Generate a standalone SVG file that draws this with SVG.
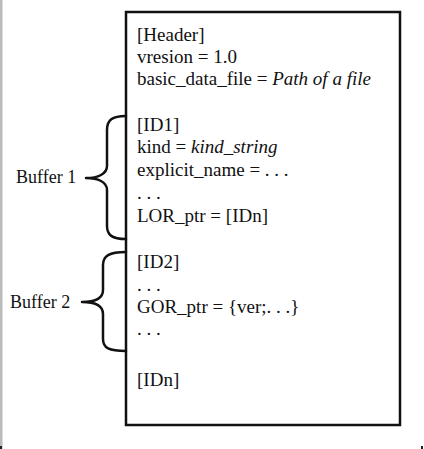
<svg xmlns="http://www.w3.org/2000/svg" width="424" height="449" viewBox="0 0 424 449">
<style>
text{font-family:"Liberation Serif","Times New Roman",serif;font-size:19px;fill:#111}
.lbl{font-size:18px}
.it{font-style:italic}
.brace{fill:none;stroke:#111;stroke-width:2.5;stroke-linejoin:round;stroke-linecap:round}
</style>
<rect x="0" y="0" width="424" height="449" fill="#fff"/>
<rect x="0" y="0" width="2.5" height="449" fill="#bbb"/>
<rect x="0" y="446" width="2" height="3" fill="#222"/>
<rect x="421" y="446" width="2" height="3" fill="#222"/>
<g id="file">
<rect x="126" y="12" width="274" height="413" fill="#fff" stroke="#111" stroke-width="2.5"/>
<text x="137" y="41">[Header]</text>
<text x="137" y="63">vresion = 1.0</text>
<text x="137" y="85">basic_data_file = <tspan class="it">Path of a file</tspan></text>
<text x="137" y="131">[ID1]</text>
<text x="137" y="153">kind = <tspan class="it">kind_string</tspan></text>
<text x="137" y="176">explicit_name = . . .</text>
<text x="137" y="199">. . .</text>
<text x="137" y="222">LOR_ptr = [IDn]</text>
<text x="137" y="268">[ID2]</text>
<text x="137" y="291">. . .</text>
<text x="137" y="313">GOR_ptr = {ver;. . .}</text>
<text x="137" y="335">. . .</text>
<text x="137" y="386">[IDn]</text>
</g>
<g id="buffer1">
<path class="brace" d="M126,116 C112,116 107,120 107,130 L107,166 C107,174 98,178 86,178 C98,178 107,182 107,190 L107,226 C107,235 112,239 126,239"/>
<text class="lbl" x="16" y="183">Buffer 1</text>
</g>
<g id="buffer2">
<path class="brace" d="M126,252 C109,252 103,256 103,265 L103,290 C103,298 95,302 82,302 C95,302 103,306 103,314 L103,339 C103,348 109,351 126,351"/>
<text class="lbl" x="10" y="308">Buffer 2</text>
</g>
</svg>
